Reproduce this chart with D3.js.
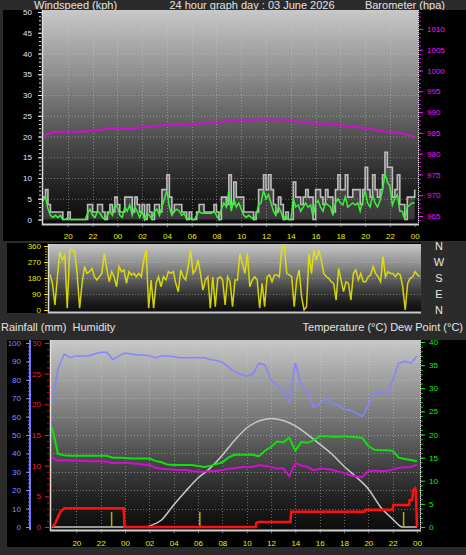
<!DOCTYPE html>
<html><head><meta charset="utf-8">
<script src="https://cdn.jsdelivr.net/npm/d3@7/dist/d3.min.js"></script>
<style>
html,body{margin:0;padding:0;background:#2b2b2b;overflow:hidden;}
svg{display:block;font-family:"Liberation Sans",Arial,sans-serif;}
</style></head><body>
<svg id="chart" width="466" height="555"></svg>
<script>
// ---------------- DATA ----------------
const windStartHour = 18, windStepHours = 0.2;   // 12-minute samples
const windGust = [
 5.4,7.2,3.6,1.8,1.8,1.8,1.8,1.8,0,0,
 1.8,0,0,0,0,0,0,0,3.6,3.6,
 1.8,1.8,3.6,3.6,1.8,0,1.8,3.6,1.8,5.4,
 3.6,1.8,1.8,5.4,5.4,5.4,1.8,5.4,3.6,1.8,
 3.6,0,3.6,1.8,0,3.6,3.6,1.8,7.2,7.2,
 10.8,5.4,1.8,3.6,3.6,3.6,1.8,1.8,0,1.8,
 0,0,1.8,3.6,3.6,1.8,1.8,1.8,1.8,3.6,
 1.8,0,5.4,5.4,3.6,10.8,3.6,9,5.4,5.4,
 5.4,1.8,1.8,1.8,1.8,0,1.8,7.2,7.2,10.8,
 7.2,10.8,7.2,3.6,1.8,5.4,3.6,0,1.8,0,
 0,9,5.4,5.4,3.6,5.4,7.2,5.4,5.4,0,
 7.2,7.2,5.4,3.6,7.2,5.4,5.4,1.8,7.2,10.8,
 7.2,7.2,10.8,5.4,5.4,7.2,7.2,7.2,3.6,7.2,
 12.6,7.2,5.4,10.8,7.2,5.4,7.2,10.8,16.2,12.6,
 12.6,5.4,7.2,10.8,3.6,3.6,0,5.4,5.4,5.4,7.2];
const windAvg = [
 4.5,5.5,2.5,1,0.5,1,0.5,1,0,0,
 0.5,0,0,0,0,0,0,0,1.5,2.5,
 1,0.5,2,1.5,0.5,0,1,2,1,3.5,
 3,1,0.5,3,2,3.5,1,3,2,0.5,
 2,0,1.5,1,0,2,2.5,1,3,5,
 7,3,1,2,2.5,2,1,1.5,0,0.5,
 0,0,1,2,1.5,1.5,1.5,1.5,1.5,2,
 1,0,2.5,4,3,7,2,5,3,4,
 2.5,1,0.5,1,0.5,0,1,3.5,4,7,
 5,6,4,2,1,3,2,0,1,0,
 0,5,3,3.5,2,3,4,3,3.5,0.5,
 4,4.5,3,2,4,3.5,3,1,4,5,
 4,3.5,5.5,3,3.5,4,3.5,4,2,4.5,
 7,4,3,6,4,3,4.5,7,11,9,
 8,3.5,5,6,2,2,0,3,3.5,4,4];
const baroStartHour = 18, baroStepHours = 1;
const barometer = [984.5,985.2,985.3,985.3,985.6,985.9,986.2,986.1,986.3,986.6,
 987.1,987.0,987.1,987.3,987.4,987.9,988.1,988.2,988.2,988.2,
 988.0,987.6,987.2,987.2,986.8,986.5,986.2,985.6,985.2,984.9,984.1];
const windDir = [
 200,150,28,187,328,281,309,10,337,337,
 328,206,10,150,244,206,216,234,187,169,
 187,206,319,234,159,216,187,131,244,216,
 225,150,216,197,206,187,206,187,281,337,
 10,169,10,150,187,131,187,169,216,206,
 216,150,103,225,187,169,244,337,206,225,
 281,206,112,169,187,10,187,19,178,187,
 169,28,187,159,19,169,169,319,262,206,
 319,131,169,187,169,10,150,19,187,197,
 159,197,197,187,356,356,206,197,187,19,
 169,225,75,0,19,319,206,337,281,337,
 281,206,187,178,159,150,56,234,169,103,
 159,150,56,206,225,169,206,159,159,187,
 197,244,206,187,159,300,187,216,206,206,
 187,206,197,131,0,150,178,187,216,197,187];
const bottomStartHour = 18, bottomStepHours = 0.5;  // 30-minute samples
const humidity = [
 68,86,94,92,93,93,93,94,95,95,
 91,93,94.5,94,93.5,93.5,93,92,93,93,
 92.5,92,92,92,92,92,91,90.5,89.5,87,
 84.5,83,82,83,89,88,80,77,74,68,
 89,77,74,65,67,70,67,66.5,64,63.5,
 62,60,66,73.5,73,72.5,80,89,90,89,93];
const temperature = [
 21.5,15.8,15.5,15.4,15.4,15.4,15.4,15.4,15.4,15.4,
 15,15,14.9,14.8,14.8,14.8,14.8,14.3,14,13.5,
 13.4,13.4,13.4,13.4,13.2,13,13.2,13.6,14,15,
 15.6,15.6,15.6,15.6,15.3,16.5,17.3,18.5,18.3,19.3,
 16.5,18.4,18.2,18.8,19.6,19.7,19.5,19.5,19.6,19.5,
 19.4,19.3,17.5,16.7,16.6,16.6,16.5,15,14.7,14.5,14.2];
const dewPoint = [
 15,14.3,14.5,14.4,14.3,14.3,14.2,14.2,14.2,14.1,
 13.8,13.9,13.9,13.8,13.7,13.5,13.4,12.8,12.6,12.5,
 12.4,12.3,12.3,12.1,12,12,12.1,12.1,12.3,12.6,
 12.7,12.9,13,13,13.4,13.2,13,12.6,12.7,11,
 13.8,13.3,13,12.3,12.6,12.6,12.4,12,11.7,11.2,
 10.9,10.8,12,12.2,12.1,12.1,12.4,12.8,12.9,13,13.5];
const rainHours = [18.05,18.3,18.5,18.7,19.0,23.9,23.95,34.75,34.8,35.0,37.6,37.65,43.7,43.75,46.0,46.05,47.35,47.4,47.6,47.7,47.85,47.9,48.0];
const rainfall  = [0,0.7,1.7,2.5,3.05,3.05,0,0,0.7,0.8,0.8,2.5,2.5,2.8,2.8,3.6,3.6,4.4,4.4,6.0,6.3,6.0,0];
const solarHours = [18,25,25.8,26,27,28,29,30,31,32,33,34,35,36,37,38,39,40,41,42,43,44,45,46,46.8,48];
const solar      = [0,0,0,0.5,3.8,12,19.6,26.6,32,39,47,53.8,57.6,59,57.9,55,50.3,45,39.7,33,27.2,20.7,10.9,4.3,0,0];
const rainMarkHours = [22.9,30.15,46.9];
const rainMarkValue = 2.45;
const hourTicks = [20,22,24,26,28,30,32,34,36,38,40,42,44,46,48];
const windTicks = [0,5,10,15,20,25,30,35,40,45,50];
const baroTicks = [965,970,975,980,985,990,995,1000,1005,1010];
const dirTicks = [0,90,180,270,360];
const dirLetters = ["N","E","S","W","N"];
const humTicks = [0,10,20,30,40,50,60,70,80,90,100];
const rainTicks = [0,5,10,15,20,25,30];
const tempTicks = [0,5,10,15,20,25,30,35,40];

// ---------------- DRAW ----------------
const svg = d3.select("#chart");
const defs = svg.append("defs");
function grad(id){
  const g = defs.append("linearGradient").attr("id",id).attr("x1",0).attr("y1",0).attr("x2",0).attr("y2",1);
  const stops=[[0,"#c8c8c8"],[0.1,"#b4b4b4"],[0.3,"#8e8e8e"],[0.5,"#636363"],[0.7,"#3a3a3a"],[0.85,"#1e1e1e"],[1,"#0c0c0c"]];
  stops.forEach(s=>g.append("stop").attr("offset",s[0]).attr("stop-color",s[1]));
}
grad("bg");

const hourFmt = h => String(h%24).padStart(2,"0");
const intFmt = d3.format("d");
const titleColor = "#e4e4e4";

function txt(x,y,s,anchor,size,color){
  return svg.append("text").attr("x",x).attr("y",y).attr("text-anchor",anchor||"start")
    .attr("font-size",size||11).attr("fill",color||titleColor).style("white-space","pre").text(s);
}
function styleAxis(g,color,size){
  g.select(".domain").remove();
  g.selectAll("line").attr("stroke",color);
  g.selectAll("text").attr("fill",color).attr("font-size",size||8).attr("font-family","Liberation Sans, Arial, sans-serif");
}

// titles
txt(34,9,"Windspeed (kph)");
txt(252,9,"24 hour graph day : 03 June 2026","middle");
txt(445,9,"Barometer (hpa)","end");

// ===== TOP PANEL =====
svg.append("rect").attr("x",3).attr("y",10).attr("width",463).attr("height",231).attr("fill","#000");
const T = {x0:42,x1:418,y0:10,y1:224};
svg.append("rect").attr("x",T.x0).attr("y",T.y0).attr("width",T.x1-T.x0).attr("height",T.y1-T.y0).attr("fill","url(#bg)");
const xTop = d3.scaleLinear().domain([18,48]).range([43,414.7]);
const yWind = d3.scaleLinear().domain([0,50]).range([219.5,12]);
const yBaro = d3.scaleLinear().domain([965,1010]).range([216,29]);
const gridTop = svg.append("g").attr("stroke","#d0d0d0").attr("stroke-opacity",0.45).attr("stroke-dasharray","1,2");
windTicks.filter(v=>v>0).forEach(v=>gridTop.append("line").attr("x1",T.x0).attr("x2",T.x1).attr("y1",yWind(v)+0.5).attr("y2",yWind(v)+0.5));
hourTicks.filter(h=>h<48).forEach(h=>gridTop.append("line").attr("x1",Math.round(xTop(h))+0.5).attr("x2",Math.round(xTop(h))+0.5).attr("y1",T.y0).attr("y2",T.y1));

const windIdxX = (d,i)=>xTop(windStartHour+i*windStepHours);
svg.append("path").datum(windGust)
  .attr("d",d3.area().x(windIdxX).y0(yWind(0)).y1(d=>yWind(d)).curve(d3.curveStepAfter))
  .attr("fill","#d0d0d0").attr("fill-opacity",0.22);
svg.append("path").datum(windGust)
  .attr("d",d3.line().x(windIdxX).y(d=>yWind(d)).curve(d3.curveStepAfter))
  .attr("fill","none").attr("stroke","#bcbcbc").attr("stroke-width",1.6);
svg.append("path").datum(windAvg)
  .attr("d",d3.line().x(windIdxX).y(d=>yWind(d)))
  .attr("fill","none").attr("stroke","#3cf03c").attr("stroke-width",1.5);
svg.append("path").datum(barometer)
  .attr("d",d3.line().x((d,i)=>xTop(baroStartHour+i*baroStepHours)).y(d=>yBaro(d)))
  .attr("fill","none").attr("stroke","#d010d0").attr("stroke-width",2);

// borders
svg.append("line").attr("x1",T.x0+0.5).attr("x2",T.x0+0.5).attr("y1",T.y0).attr("y2",T.y1+1).attr("stroke","#dcdcdc").attr("stroke-width",1.5);
svg.append("line").attr("x1",T.x0).attr("x2",T.x1+1).attr("y1",T.y1+0.5).attr("y2",T.y1+0.5).attr("stroke","#d0d0d0").attr("stroke-width",2);
svg.append("line").attr("x1",T.x1+0.5).attr("x2",T.x1+0.5).attr("y1",T.y0).attr("y2",T.y1).attr("stroke","#e0e0e0").attr("stroke-width",1).attr("stroke-dasharray","1,1");
svg.append("line").attr("x1",T.x1+0.5).attr("x2",T.x1+0.5).attr("y1",T.y0+1).attr("y2",T.y1).attr("stroke","#e000e0").attr("stroke-width",1).attr("stroke-dasharray","1,1");

// axes
styleAxis(svg.append("g").attr("transform",`translate(${T.x0-1},0)`)
  .call(d3.axisLeft(yWind).tickValues(d3.range(0,51)).tickSize(2).tickFormat("")),"#e8e8e8");
styleAxis(svg.append("g").attr("transform",`translate(${T.x0},0)`)
  .call(d3.axisLeft(yWind).tickValues(windTicks).tickSize(4).tickPadding(6).tickFormat(intFmt)),"#e2e8ff");
styleAxis(svg.append("g").attr("transform",`translate(${T.x1+1},0)`)
  .call(d3.axisRight(yBaro).tickValues(d3.range(964,1015)).tickSize(2).tickFormat("")),"#e000e0");
styleAxis(svg.append("g").attr("transform",`translate(${T.x1+1},0)`)
  .call(d3.axisRight(yBaro).tickValues(baroTicks).tickSize(4).tickPadding(4).tickFormat(intFmt)),"#ff10ff");
const xaTop = svg.append("g").attr("transform",`translate(0,${T.y1+1})`)
  .call(d3.axisBottom(xTop).tickValues(hourTicks).tickSize(2).tickPadding(6).tickFormat(hourFmt));
styleAxis(xaTop,"#eeee00");
xaTop.selectAll("line").attr("stroke","#888");

// ===== MIDDLE PANEL =====
svg.append("rect").attr("x",7).attr("y",243).attr("width",414).attr("height",70).attr("fill","#000");
const M = {x0:48,x1:421,y0:244,y1:312};
svg.append("rect").attr("x",M.x0).attr("y",M.y0).attr("width",M.x1-M.x0).attr("height",M.y1-M.y0).attr("fill","url(#bg)");
const xMid = d3.scaleLinear().domain([18,48]).range([50,420]);
const yDir = d3.scaleLinear().domain([0,360]).range([310,246]);
const gridMid = svg.append("g").attr("stroke","#d0d0d0").attr("stroke-opacity",0.4).attr("stroke-dasharray","1,2");
[90,180,270].forEach(v=>gridMid.append("line").attr("x1",M.x0).attr("x2",M.x1).attr("y1",Math.round(yDir(v))+0.5).attr("y2",Math.round(yDir(v))+0.5));
svg.append("path").datum(windDir)
  .attr("d",d3.line().x((d,i)=>xMid(windStartHour+i*windStepHours)).y(d=>yDir(d)))
  .attr("fill","none").attr("stroke","#e6e600").attr("stroke-width",1.5).attr("stroke-opacity",0.9);
svg.append("line").attr("x1",M.x0+0.5).attr("x2",M.x0+0.5).attr("y1",M.y0).attr("y2",M.y1+1).attr("stroke","#e0e0e0").attr("stroke-width",1.5);
svg.append("line").attr("x1",M.x0).attr("x2",M.x1).attr("y1",M.y1+0.5).attr("y2",M.y1+0.5).attr("stroke","#c8c8c8").attr("stroke-width",2);
styleAxis(svg.append("g").attr("transform",`translate(${M.x0-1},0)`)
  .call(d3.axisLeft(yDir).tickValues(d3.range(0,361,15)).tickSize(2).tickFormat("")),"#b0a000");
styleAxis(svg.append("g").attr("transform",`translate(${M.x0},0)`)
  .call(d3.axisLeft(yDir).tickValues(dirTicks).tickSize(4).tickPadding(3).tickFormat(intFmt)),"#e8e000");
dirTicks.forEach((v,i)=>txt(439,yDir(v)+4,dirLetters[i],"middle",11,"#e8e8e8"));

// ===== BOTTOM PANEL =====
txt(1,331,"Rainfall (mm)\u00a0\u00a0Humidity");
txt(463,331,"Temperature (°C) Dew Point (°C)","end");
svg.append("rect").attr("x",7).attr("y",340).attr("width",459).attr("height",207).attr("fill","#000");
const B = {x0:50,x1:420,y0:340,y1:530};
svg.append("rect").attr("x",B.x0).attr("y",B.y0).attr("width",B.x1-B.x0).attr("height",B.y1-B.y0).attr("fill","url(#bg)");
const xBot = d3.scaleLinear().domain([18,48]).range([52,417]);
const yHum = d3.scaleLinear().domain([0,100]).range([527,343]);
const yRain = d3.scaleLinear().domain([0,30]).range([527,343]);
const yTemp = d3.scaleLinear().domain([0,40]).range([527,342]);
const gridBot = svg.append("g").attr("stroke","#d0d0d0").attr("stroke-opacity",0.45).attr("stroke-dasharray","1,2");
humTicks.filter(v=>v>0).forEach(v=>gridBot.append("line").attr("x1",B.x0).attr("x2",B.x1).attr("y1",Math.round(yHum(v))+0.5).attr("y2",Math.round(yHum(v))+0.5));
hourTicks.filter(h=>h<48).forEach(h=>gridBot.append("line").attr("x1",Math.round(xBot(h))+0.5).attr("x2",Math.round(xBot(h))+0.5).attr("y1",B.y0).attr("y2",B.y1));

const botX = (d,i)=>xBot(bottomStartHour+i*bottomStepHours);
svg.append("path").datum(solar)
  .attr("d",d3.line().x((d,i)=>xBot(solarHours[i])).y(d=>yHum(d)).curve(d3.curveMonotoneX))
  .attr("fill","none").attr("stroke","#c8c8c8").attr("stroke-width",1.5);
svg.append("g").selectAll("line").data(rainMarkHours).join("line")
  .attr("x1",d=>xBot(d)).attr("x2",d=>xBot(d)).attr("y1",yRain(rainMarkValue)).attr("y2",yRain(0))
  .attr("stroke","#b8b000").attr("stroke-width",1.5);
svg.append("path").datum(humidity)
  .attr("d",d3.line().x(botX).y(d=>yHum(d)))
  .attr("fill","none").attr("stroke","#8484ff").attr("stroke-width",1.5);
svg.append("path").datum(dewPoint)
  .attr("d",d3.line().x(botX).y(d=>yTemp(d)))
  .attr("fill","none").attr("stroke","#d010d0").attr("stroke-width",2);
svg.append("path").datum(temperature)
  .attr("d",d3.line().x(botX).y(d=>yTemp(d)))
  .attr("fill","none").attr("stroke","#10e010").attr("stroke-width",2);
svg.append("path").datum(rainfall)
  .attr("d",d3.line().x((d,i)=>xBot(rainHours[i])).y(d=>yRain(d)))
  .attr("fill","none").attr("stroke","#ff1010").attr("stroke-width",2.5);

svg.append("line").attr("x1",B.x0+0.5).attr("x2",B.x0+0.5).attr("y1",B.y0).attr("y2",B.y1+1).attr("stroke","#e0e0e0").attr("stroke-width",1.5);
svg.append("line").attr("x1",B.x0).attr("x2",B.x1+1).attr("y1",B.y1+0.5).attr("y2",B.y1+0.5).attr("stroke","#d0d0d0").attr("stroke-width",2);
svg.append("line").attr("x1",B.x1+0.5).attr("x2",B.x1+0.5).attr("y1",B.y0).attr("y2",B.y1).attr("stroke","#e0e0e0").attr("stroke-dasharray","1,1");
svg.append("line").attr("x1",B.x1+0.5).attr("x2",B.x1+0.5).attr("y1",B.y0+1).attr("y2",B.y1).attr("stroke","#00e000").attr("stroke-dasharray","1,1");

// humidity axis (blue)
svg.append("line").attr("x1",30).attr("x2",30).attr("y1",340).attr("y2",530).attr("stroke","#7878ff").attr("stroke-width",2);
styleAxis(svg.append("g").attr("transform","translate(30,0)")
  .call(d3.axisLeft(yHum).tickValues(d3.range(0,101,2)).tickSize(2).tickFormat("")),"#7878ff");
styleAxis(svg.append("g").attr("transform","translate(30,0)")
  .call(d3.axisLeft(yHum).tickValues(humTicks).tickSize(4).tickPadding(5).tickFormat(intFmt)),"#8a8aff");
// rain axis (red)
styleAxis(svg.append("g").attr("transform",`translate(${B.x0-1},0)`)
  .call(d3.axisLeft(yRain).tickValues(d3.range(0,31).filter(v=>v%5!==0)).tickSize(2).tickFormat("")),"#e00000");
styleAxis(svg.append("g").attr("transform",`translate(${B.x0-1},0)`)
  .call(d3.axisLeft(yRain).tickValues(rainTicks).tickSize(4).tickPadding(4).tickFormat(intFmt)),"#ff1818");
// temperature axis (green)
styleAxis(svg.append("g").attr("transform",`translate(${B.x1+1},0)`)
  .call(d3.axisRight(yTemp).tickValues(d3.range(0,41)).tickSize(2).tickFormat("")),"#00c800");
styleAxis(svg.append("g").attr("transform",`translate(${B.x1+1},0)`)
  .call(d3.axisRight(yTemp).tickValues(tempTicks).tickSize(4).tickPadding(4).tickFormat(intFmt)),"#10ee10");
const xaBot = svg.append("g").attr("transform",`translate(0,${B.y1+1})`)
  .call(d3.axisBottom(xBot).tickValues(hourTicks).tickSize(2).tickPadding(7).tickFormat(hourFmt));
styleAxis(xaBot,"#eeee00");
xaBot.selectAll("line").attr("stroke","#888");
</script>
</body></html>
